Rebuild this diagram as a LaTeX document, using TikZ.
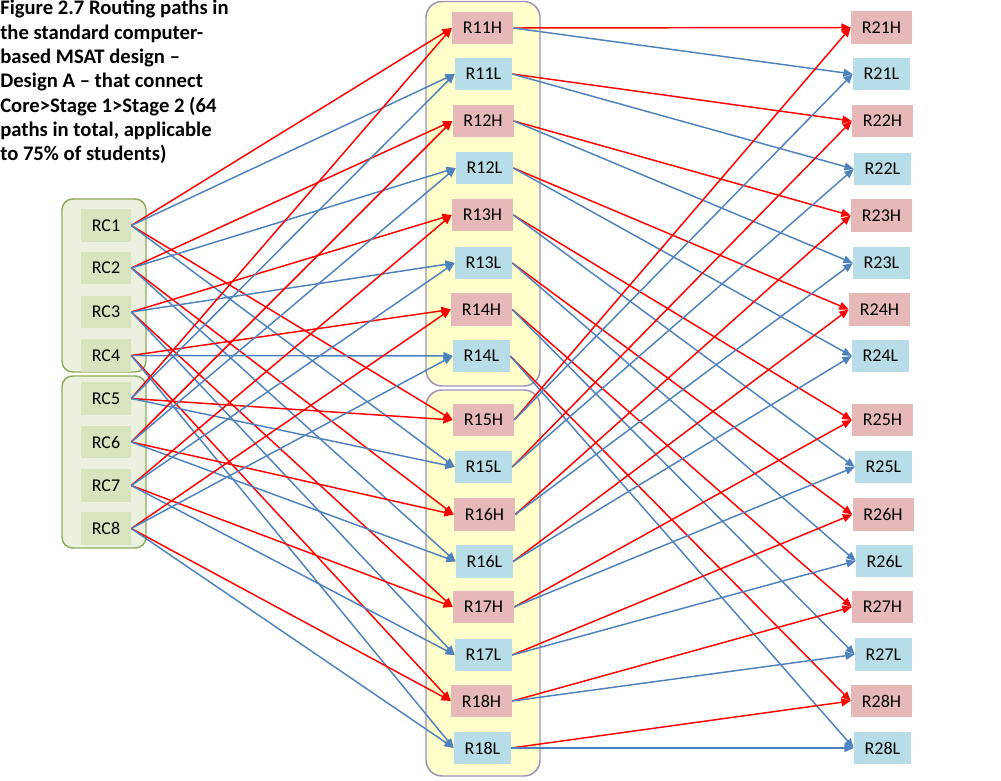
\documentclass[tikz,border=0pt]{standalone}
\usepackage{fontspec}
\setmainfont{Carlito}
\usetikzlibrary{arrows.meta}
\definecolor{hfill}{HTML}{E6B9B8}
\definecolor{lfill}{HTML}{B7DEE8}
\definecolor{rcfill}{HTML}{D7E4BD}
\definecolor{grpgreen}{HTML}{EBF1DE}
\definecolor{grpgreenline}{HTML}{8EAA5C}
\definecolor{grpyellow}{HTML}{FFFFCC}
\definecolor{grpyellowline}{HTML}{9E8FBA}
\definecolor{redline}{HTML}{FF0000}
\definecolor{blueline}{HTML}{4F81BD}
\tikzset{
  box/.style={inner sep=0pt, minimum height=24.4pt, font=\fontsize{13.5}{15}\selectfont, text=black},
  hbox/.style={box, fill=hfill, minimum width=45.75pt},
  lbox/.style={box, fill=lfill, minimum width=42.75pt},
  rcbox/.style={box, fill=rcfill, minimum width=37.5pt},
  greengrp/.style={draw=grpgreenline, fill=grpgreen, line width=1.1pt, rounded corners=8pt},
  yellowgrp/.style={draw=grpyellowline, fill=grpyellow, line width=1.1pt, rounded corners=12pt},
  redarrow/.style={draw=redline, line width=1.1pt, -{Triangle[length=7pt,width=6pt]}},
  bluearrow/.style={draw=blueline, line width=1.1pt, -{Triangle[length=7pt,width=6pt]}},
}
\begin{document}
\begin{tikzpicture}[x=0.75pt,y=-0.75pt]
\useasboundingbox (0,0) rectangle (1001,781);

% title
\node[anchor=north west, align=left, inner sep=0pt, font=\fontsize{15.5}{18.25}\selectfont\bfseries] (title) at (0,0)
 {Figure 2.7 Routing paths in\\the standard computer-\\based MSAT design –\\Design A – that connect\\Core>Stage 1>Stage 2 (64\\paths in total, applicable\\to 75\% of students)};

% groups
\path[greengrp] (62,199) rectangle (146,372);
\path[greengrp] (62,376) rectangle (146,548);
\path[yellowgrp] (426,1.5) rectangle (540,386);
\path[yellowgrp] (426,390) rectangle (540,776);

% core nodes
\foreach \i/\y in {1/225.5,2/268,3/312,4/355.5,5/398.5,6/442,7/485.5,8/528.5}
  \node[rcbox] (RC\i) at (106,\y) {RC\i};

% stage 1 nodes
\foreach \n/\x/\y in {11/482.5/28,12/483/121,13/482.5/215,14/481.5/309.5,15/483.5/420,16/484.5/514.5,17/483.5/607,18/481.5/701}
  \node[hbox] (R\n H) at (\x,\y) {R\n H};
\foreach \n/\x/\y in {11/483.5/74,12/484.5/168,13/483.5/263,14/481.5/356,15/483.5/467,16/484.5/561.5,17/483.5/655,18/482.5/748}
  \node[lbox] (R\n L) at (\x,\y) {R\n L};

% stage 2 nodes
\foreach \n/\x/\y in {21/881.5/27.5,22/882.5/121,23/881.5/215.5,24/879.5/309.5,25/882.5/420,26/883/514.5,27/882.5/607,28/881.5/701}
  \node[hbox] (R\n H) at (\x,\y) {R\n H};
\foreach \n/\x/\y in {21/881.5/74,22/882.5/169,23/881.5/263,24/880.5/356,25/883.5/467,26/884.5/561,27/883.5/654.5,28/882.5/748}
  \node[lbox] (R\n L) at (\x,\y) {R\n L};

% core -> stage 1
\foreach \i/\p/\q in {1/1/5,2/2/6,3/3/7,4/4/8,5/1/5,6/2/6,7/3/7,8/4/8}{
  \draw[redarrow] (RC\i.east) -- (R1\p H.west);
  \draw[bluearrow] (RC\i.east) -- (R1\p L.west);
  \draw[redarrow] (RC\i.east) -- (R1\q H.west);
  \draw[bluearrow] (RC\i.east) -- (R1\q L.west);
}

% stage 1 -> stage 2
\foreach \j/\p/\q in {1/1/2,2/3/4,3/5/6,4/7/8,5/1/2,6/3/4,7/5/6,8/7/8}{
  \draw[redarrow] (R1\j H.east) -- (R2\p H.west);
  \draw[bluearrow] (R1\j H.east) -- (R2\p L.west);
  \draw[redarrow] (R1\j L.east) -- (R2\q H.west);
  \draw[bluearrow] (R1\j L.east) -- (R2\q L.west);
}
\end{tikzpicture}
\end{document}
